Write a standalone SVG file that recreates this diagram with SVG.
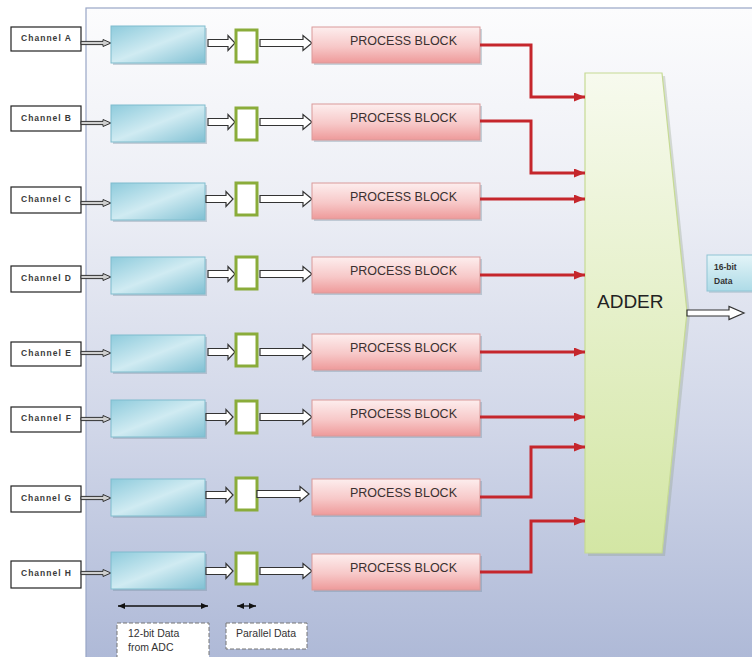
<svg xmlns="http://www.w3.org/2000/svg" xmlns:xlink="http://www.w3.org/1999/xlink" width="752" height="657" viewBox="0 0 752 657">
<defs>
<linearGradient id="bg" x1="0" y1="0" x2="0" y2="1">
<stop offset="0" stop-color="#fcfcfd"/>
<stop offset="0.3" stop-color="#eceef5"/>
<stop offset="0.65" stop-color="#d0d6e8"/>
<stop offset="1" stop-color="#aeb9d7"/>
</linearGradient>
<linearGradient id="blueG" x1="0" y1="0" x2="1" y2="1">
<stop offset="0" stop-color="#8ecbdc"/>
<stop offset="0.5" stop-color="#d0ebf2"/>
<stop offset="1" stop-color="#80c0d3"/>
</linearGradient>
<linearGradient id="pinkG" x1="0" y1="0" x2="0" y2="1">
<stop offset="0" stop-color="#fdeeee"/>
<stop offset="0.55" stop-color="#f7c8c8"/>
<stop offset="1" stop-color="#ee9a9a"/>
</linearGradient>
<linearGradient id="adderG" x1="0" y1="0" x2="0" y2="1">
<stop offset="0" stop-color="#f7faee"/>
<stop offset="1" stop-color="#d3e6a4"/>
</linearGradient>
<linearGradient id="dataG" x1="0" y1="0" x2="0" y2="1">
<stop offset="0" stop-color="#e4f4f8"/>
<stop offset="1" stop-color="#aedbe7"/>
</linearGradient>
<marker id="redHead" markerUnits="userSpaceOnUse" markerWidth="11" markerHeight="9" refX="11" refY="4.5" orient="auto">
<path d="M0,0 L11,4.5 L0,9 Z" fill="#c5262c"/>
</marker>
<marker id="blkHead" markerUnits="userSpaceOnUse" markerWidth="7" markerHeight="6" refX="7" refY="3" orient="auto-start-reverse">
<path d="M0,0 L7,3 L0,6 Z" fill="#111"/>
</marker>
<path id="thinArrow" d="M0,-1.6 H22 V-3.5 L30,0 L22,3.5 V1.6 H0 Z"/>
<path id="shortArrow" d="M0,-3.5 H20 V-7.5 L27,0 L20,7.5 V3.5 H0 Z"/>
<path id="longArrow" d="M0,-3.5 H43 V-7.5 L52,0 L43,7.5 V3.5 H0 Z"/>
</defs>
<style>
.chan{fill:#ffffff;stroke:#222;stroke-width:1.2}
.chanT{font-family:"Liberation Sans",Arial,sans-serif;font-size:8.5px;font-weight:bold;fill:#3a3a3a}
.blue{fill:url(#blueG);stroke:#7fbccd;stroke-width:1}
.green{fill:#ffffff;stroke:#8aac3a;stroke-width:3}
.proc{fill:url(#pinkG);stroke:#d99a9a;stroke-width:1}
.procT{font-family:"Liberation Sans",Arial,sans-serif;font-size:12.5px;fill:#3a3030}
.thin{fill:#cfcfcf;stroke:#333;stroke-width:1}
.hollow{fill:#ffffff;stroke:#333;stroke-width:1.2}
.red{fill:none;stroke:#c5262c;stroke-width:3;marker-end:url(#redHead)}
.shadow{fill:#6f8a9a;opacity:0.35}
.small{font-family:"Liberation Sans",Arial,sans-serif;font-size:10.5px;fill:#333}
.tiny{font-family:"Liberation Sans",Arial,sans-serif;font-size:8.5px;font-weight:bold;fill:#333}
.dash{fill:#ffffff;stroke:#777;stroke-width:1;stroke-dasharray:4,2}
</style>
<rect x="0" y="0" width="752" height="657" fill="#ffffff"/>
<rect x="86" y="8" width="670" height="653" fill="url(#bg)" stroke="#98a6c6" stroke-width="1.2"/>

<g id="rowA">
<g id="channelA"><rect class="chan" x="11" y="27" width="70" height="24"/><text class="chanT" x="21" y="41" textLength="50" lengthAdjust="spacing">Channel A</text></g>
<use href="#thinArrow" class="thin" x="81" y="43"/>
<g id="adcA"><rect class="shadow" x="113" y="28" width="94" height="37"/><rect class="blue" x="111" y="26" width="94" height="37"/></g>
<use href="#shortArrow" class="hollow" x="208" y="43"/>
<g id="parA"><rect class="green" x="236" y="30" width="21" height="32"/></g>
<use href="#longArrow" class="hollow" x="260" y="43"/>
<g id="procA"><rect class="shadow" x="314" y="29" width="168" height="36"/><rect class="proc" x="312" y="27" width="168" height="36"/><text class="procT" x="350" y="44.5">PROCESS BLOCK</text></g>
</g>

<g id="rowB">
<g id="channelB"><rect class="chan" x="11" y="106" width="70" height="25"/><text class="chanT" x="21" y="121" textLength="50" lengthAdjust="spacing">Channel B</text></g>
<use href="#thinArrow" class="thin" x="81" y="123"/>
<g id="adcB"><rect class="shadow" x="113" y="107" width="94" height="37"/><rect class="blue" x="111" y="105" width="94" height="37"/></g>
<use href="#shortArrow" class="hollow" x="208" y="122"/>
<g id="parB"><rect class="green" x="236" y="108" width="21" height="32"/></g>
<use href="#longArrow" class="hollow" x="260" y="122"/>
<g id="procB"><rect class="shadow" x="314" y="106" width="168" height="36"/><rect class="proc" x="312" y="104" width="168" height="36"/><text class="procT" x="350" y="121.5">PROCESS BLOCK</text></g>
</g>

<g id="rowC">
<g id="channelC"><rect class="chan" x="11" y="187" width="70" height="26"/><text class="chanT" x="21" y="202" textLength="50" lengthAdjust="spacing">Channel C</text></g>
<use href="#thinArrow" class="thin" x="81" y="203"/>
<g id="adcC"><rect class="shadow" x="113" y="185" width="94" height="37"/><rect class="blue" x="111" y="183" width="94" height="37"/></g>
<use href="#shortArrow" class="hollow" x="206" y="199"/>
<g id="parC"><rect class="green" x="236" y="183" width="21" height="32"/></g>
<use href="#longArrow" class="hollow" x="260" y="199"/>
<g id="procC"><rect class="shadow" x="314" y="185" width="168" height="36"/><rect class="proc" x="312" y="183" width="168" height="36"/><text class="procT" x="350" y="200.5">PROCESS BLOCK</text></g>
</g>

<g id="rowD">
<g id="channelD"><rect class="chan" x="11" y="266" width="70" height="26"/><text class="chanT" x="21" y="281" textLength="50" lengthAdjust="spacing">Channel D</text></g>
<use href="#thinArrow" class="thin" x="81" y="277"/>
<g id="adcD"><rect class="shadow" x="113" y="259" width="94" height="37"/><rect class="blue" x="111" y="257" width="94" height="37"/></g>
<use href="#shortArrow" class="hollow" x="208" y="274"/>
<g id="parD"><rect class="green" x="236" y="257" width="21" height="32"/></g>
<use href="#longArrow" class="hollow" x="260" y="274"/>
<g id="procD"><rect class="shadow" x="314" y="259" width="168" height="36"/><rect class="proc" x="312" y="257" width="168" height="36"/><text class="procT" x="350" y="274.5">PROCESS BLOCK</text></g>
</g>

<g id="rowE">
<g id="channelE"><rect class="chan" x="11" y="342" width="70" height="24"/><text class="chanT" x="21" y="356" textLength="50" lengthAdjust="spacing">Channel E</text></g>
<use href="#thinArrow" class="thin" x="81" y="353"/>
<g id="adcE"><rect class="shadow" x="113" y="337" width="94" height="37"/><rect class="blue" x="111" y="335" width="94" height="37"/></g>
<use href="#shortArrow" class="hollow" x="208" y="352"/>
<g id="parE"><rect class="green" x="236" y="334" width="21" height="32"/></g>
<use href="#longArrow" class="hollow" x="260" y="352"/>
<g id="procE"><rect class="shadow" x="314" y="336" width="168" height="36"/><rect class="proc" x="312" y="334" width="168" height="36"/><text class="procT" x="350" y="351.5">PROCESS BLOCK</text></g>
</g>

<g id="rowF">
<g id="channelF"><rect class="chan" x="11" y="407" width="70" height="25"/><text class="chanT" x="21" y="421" textLength="50" lengthAdjust="spacing">Channel F</text></g>
<use href="#thinArrow" class="thin" x="81" y="419"/>
<g id="adcF"><rect class="shadow" x="113" y="402" width="94" height="37"/><rect class="blue" x="111" y="400" width="94" height="37"/></g>
<use href="#shortArrow" class="hollow" x="206" y="417"/>
<g id="parF"><rect class="green" x="236" y="401" width="21" height="32"/></g>
<use href="#longArrow" class="hollow" x="260" y="417"/>
<g id="procF"><rect class="shadow" x="314" y="402" width="168" height="36"/><rect class="proc" x="312" y="400" width="168" height="36"/><text class="procT" x="350" y="417.5">PROCESS BLOCK</text></g>
</g>

<g id="rowG">
<g id="channelG"><rect class="chan" x="11" y="486" width="70" height="26"/><text class="chanT" x="21" y="501" textLength="50" lengthAdjust="spacing">Channel G</text></g>
<use href="#thinArrow" class="thin" x="81" y="498"/>
<g id="adcG"><rect class="shadow" x="113" y="481" width="94" height="37"/><rect class="blue" x="111" y="479" width="94" height="37"/></g>
<use href="#shortArrow" class="hollow" x="206" y="495"/>
<g id="parG"><rect class="green" x="236" y="478" width="21" height="32"/></g>
<use href="#longArrow" class="hollow" x="257" y="494"/>
<g id="procG"><rect class="shadow" x="314" y="481" width="168" height="36"/><rect class="proc" x="312" y="479" width="168" height="36"/><text class="procT" x="350" y="496.5">PROCESS BLOCK</text></g>
</g>

<g id="rowH">
<g id="channelH"><rect class="chan" x="11" y="561" width="70" height="27"/><text class="chanT" x="21" y="576" textLength="50" lengthAdjust="spacing">Channel H</text></g>
<use href="#thinArrow" class="thin" x="81" y="573"/>
<g id="adcH"><rect class="shadow" x="113" y="554" width="94" height="37"/><rect class="blue" x="111" y="552" width="94" height="37"/></g>
<use href="#shortArrow" class="hollow" x="206" y="571"/>
<g id="parH"><rect class="green" x="236" y="553" width="21" height="31"/></g>
<use href="#longArrow" class="hollow" x="260" y="571"/>
<g id="procH"><rect class="shadow" x="314" y="556" width="168" height="36"/><rect class="proc" x="312" y="554" width="168" height="36"/><text class="procT" x="350" y="571.5">PROCESS BLOCK</text></g>
</g>

<g id="adder">
<polygon points="588,76 665,76 690,315 665,556 588,556" fill="#8a9a80" opacity="0.3"/>
<polygon points="585,73 662,73 687,312 662,553 585,553" fill="url(#adderG)" stroke="#c6da94" stroke-width="1.2"/>
<text x="597" y="308" font-family="Liberation Sans, Arial, sans-serif" font-size="19" fill="#222">ADDER</text>
</g>

<g id="out16">
<rect x="709" y="257" width="50" height="36" fill="#8aa8b8" opacity="0.35"/>
<rect x="707" y="255" width="50" height="36" fill="url(#dataG)" stroke="#8fc4d4" stroke-width="1"/>
<text class="tiny" x="714" y="270">16-bit</text>
<text class="tiny" x="714" y="284">Data</text>
</g>

<g id="connectors">
<path class="red" d="M480,45 H531 V97 H585"/>
<path class="red" d="M480,121 H531 V173 H585"/>
<path class="red" d="M480,199 H585"/>
<path class="red" d="M480,275 H585"/>
<path class="red" d="M480,352 H585"/>
<path class="red" d="M480,417 H585"/>
<path class="red" d="M480,497 H531 V447 H585"/>
<path class="red" d="M480,572 H531 V521 H585"/>
<path class="hollow" d="M687,310 H729 V306.5 L744,313 L729,319.5 V316 H687 Z"/>
<line x1="118" y1="606" x2="208" y2="606" stroke="#111" stroke-width="1.3" marker-start="url(#blkHead)" marker-end="url(#blkHead)"/>
<line x1="237" y1="606" x2="256" y2="606" stroke="#111" stroke-width="1.3" marker-start="url(#blkHead)" marker-end="url(#blkHead)"/>
</g>

<g id="label12bit">
<rect class="dash" x="117" y="623" width="92" height="40"/>
<text class="small" x="128" y="637">12-bit Data</text>
<text class="small" x="128" y="651">from ADC</text>
</g>
<g id="labelParallel">
<rect class="dash" x="226" y="623" width="81" height="26"/>
<text class="small" x="236" y="637">Parallel Data</text>
</g>
</svg>
